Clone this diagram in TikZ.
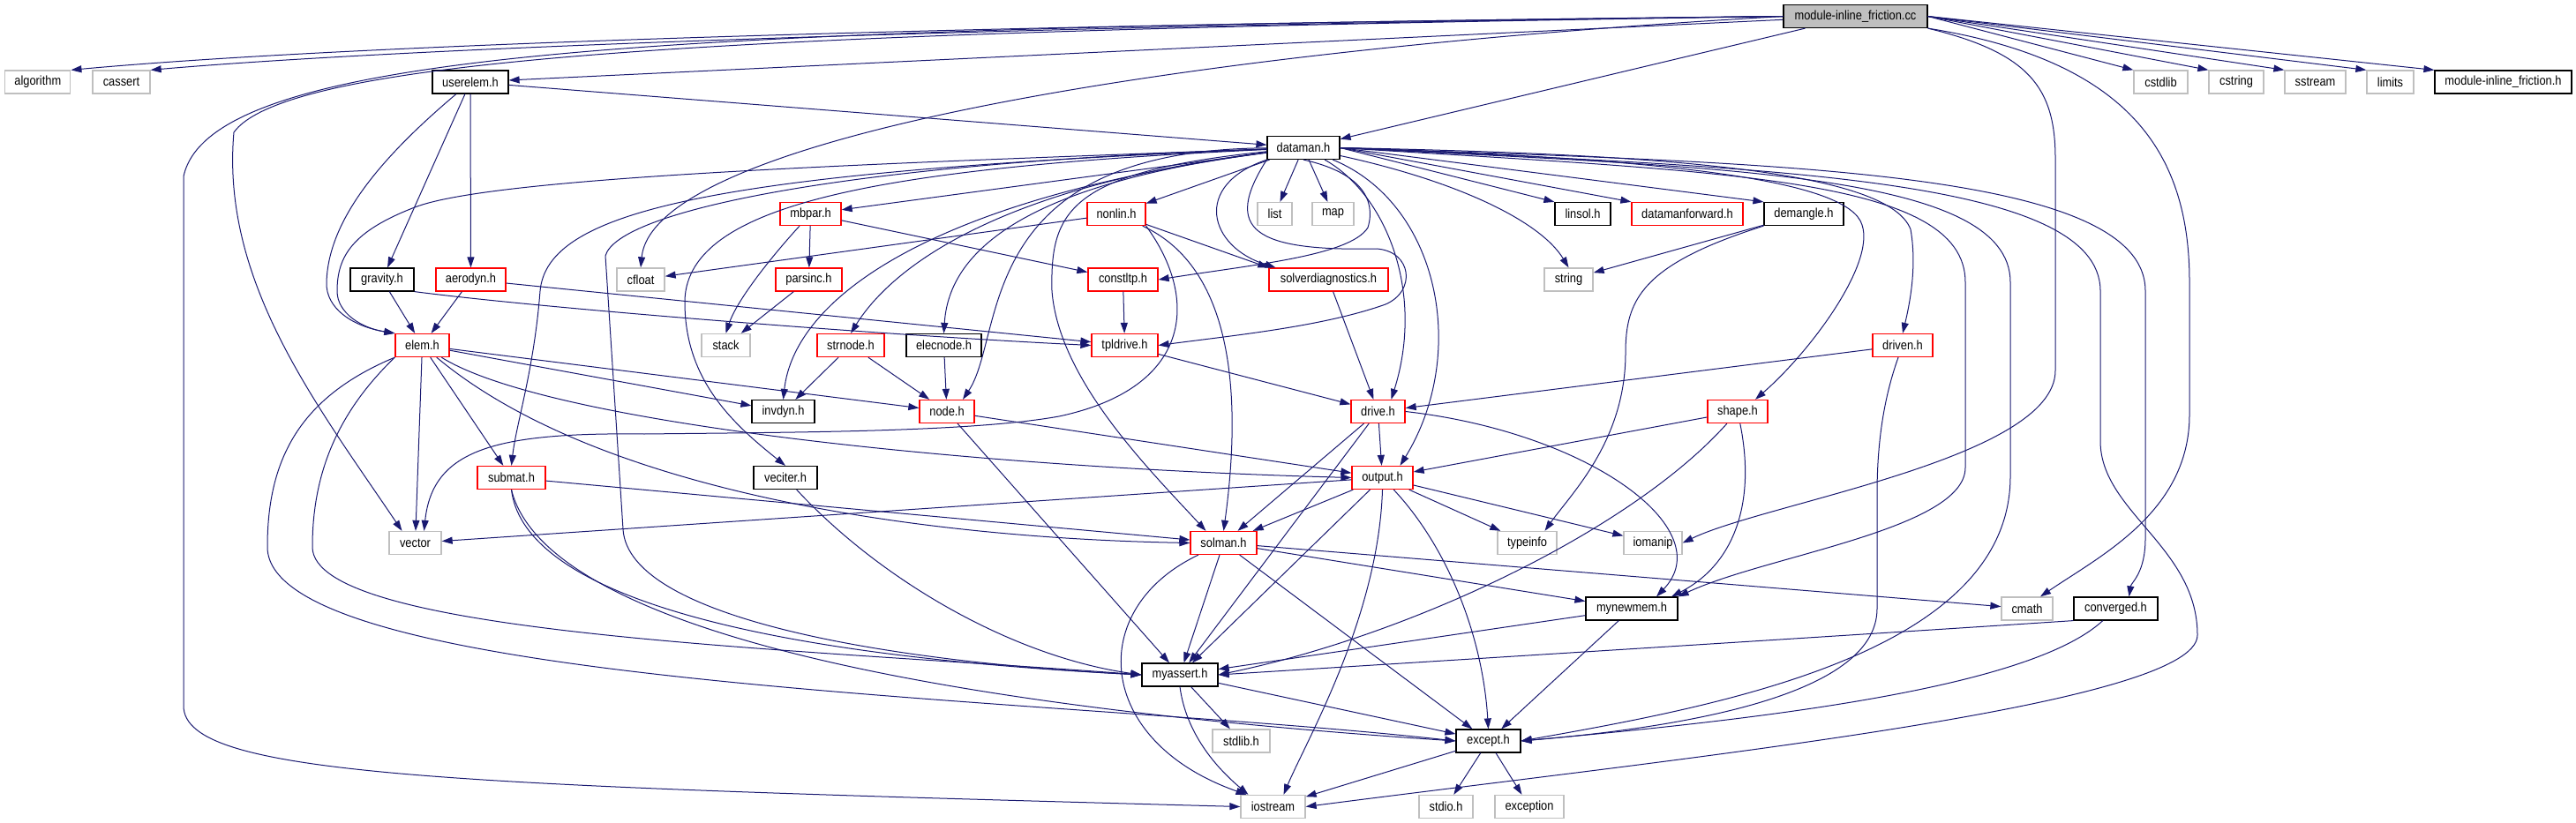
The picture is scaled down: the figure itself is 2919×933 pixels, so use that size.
\documentclass[tikz,border=0pt]{standalone}
\usepackage{fontspec}
\setmainfont{Liberation Sans}[FakeStretch=0.88]
\usetikzlibrary{arrows.meta}
\definecolor{edgeblue}{HTML}{191970}
\definecolor{boxgray}{HTML}{BFBFBF}

\begin{document}
\begin{tikzpicture}[x=1pt, y=-1pt,
sysbox/.style={rectangle, draw=boxgray, line width=1.3pt, minimum height=26pt, inner sep=0pt, font=\fontsize{14.6}{16}\selectfont},
docbox/.style={sysbox, draw=black, line width=1.2pt},
redbox/.style={sysbox, draw=red},
rootbox/.style={sysbox, draw=black, line width=1.2pt, fill=boxgray},
link/.style={draw=edgeblue, line width=1pt, ->},
>={Triangle[length=12pt,width=8pt]},
]
\useasboundingbox (0,0) rectangle (2919,933);
%Nodes
\node[rootbox, minimum width=163pt] (root)      at (2102.5,18.5) {module-inline\_friction.cc};
\node[sysbox, minimum width=74pt]   (algorithm) at (42.8,93)     {algorithm};
\node[sysbox, minimum width=65pt]   (cassert)   at (137.5,93)    {cassert};
\node[docbox, minimum width=86pt]   (userelem)  at (533,93)      {userelem.h};
\node[sysbox, minimum width=61pt]   (cstdlib)   at (2448.5,93)   {cstdlib};
\node[sysbox, minimum width=62pt]   (cstring)   at (2534,93)     {cstring};
\node[sysbox, minimum width=69pt]   (sstream)   at (2623.5,93)   {sstream};
\node[sysbox, minimum width=53pt]   (limits)    at (2708.5,93)   {limits};
\node[docbox, minimum width=155pt]  (mifh)      at (2836.5,93)   {module-inline\_friction.h};
\node[docbox, minimum width=82pt]   (dataman)   at (1477,167.5)  {dataman.h};
\node[redbox, minimum width=69pt]   (mbpar)     at (918.5,242.5) {mbpar.h};
\node[redbox, minimum width=66pt]   (nonlin)    at (1265,242.5)  {nonlin.h};
\node[sysbox, minimum width=39pt]   (list)      at (1444.5,242.5) {list};
\node[sysbox, minimum width=47pt]   (map)       at (1510.5,242.5) {map};
\node[docbox, minimum width=63pt]   (linsol)    at (1793.5,242.5) {linsol.h};
\node[redbox, minimum width=126pt]  (dmfwd)     at (1912,242.5)  {datamanforward.h};
\node[docbox, minimum width=90pt]   (demangle)  at (2044,242.5)  {demangle.h};
\node[docbox, minimum width=72pt]   (gravity)   at (433,317)     {gravity.h};
\node[redbox, minimum width=79pt]   (aerodyn)   at (533.5,317)   {aerodyn.h};
\node[sysbox, minimum width=54pt]   (cfloat)    at (726,317)     {cfloat};
\node[redbox, minimum width=75pt]   (parsinc)   at (916.5,317)   {parsinc.h};
\node[redbox, minimum width=79pt]   (constltp)  at (1272.5,317)  {constltp.h};
\node[redbox, minimum width=135pt]  (solvdiag)  at (1505.5,317)  {solverdiagnostics.h};
\node[sysbox, minimum width=55pt]   (string)    at (1777.5,317)  {string};
\node[redbox, minimum width=61pt]   (elem)      at (478.5,391.5) {elem.h};
\node[sysbox, minimum width=55pt]   (stack)     at (822.5,391.5) {stack};
\node[redbox, minimum width=76pt]   (strnode)   at (964,391.5)   {strnode.h};
\node[docbox, minimum width=85pt]   (elecnode)  at (1069.5,391.5) {elecnode.h};
\node[redbox, minimum width=75pt]   (tpldrive)  at (1274.5,391.5) {tpldrive.h};
\node[redbox, minimum width=68pt]   (driven)    at (2156,391.5)  {driven.h};
\node[docbox, minimum width=71pt]   (invdyn)    at (887.5,466.5) {invdyn.h};
\node[redbox, minimum width=62pt]   (nodeh)     at (1073,466.5)  {node.h};
\node[redbox, minimum width=61pt]   (drive)     at (1561.5,466.5) {drive.h};
\node[redbox, minimum width=68pt]   (shape)     at (1969,466.5)  {shape.h};
\node[redbox, minimum width=77pt]   (submat)    at (579.5,541.5) {submat.h};
\node[docbox, minimum width=72pt]   (veciter)   at (890,541.5)   {veciter.h};
\node[redbox, minimum width=69pt]   (output)    at (1566.5,541.5) {output.h};
\node[sysbox, minimum width=59pt]   (vector)    at (470.5,615.5) {vector};
\node[redbox, minimum width=75pt]   (solman)    at (1386.5,615.5) {solman.h};
\node[sysbox, minimum width=67pt]   (typeinfo)  at (1730.5,615.5) {typeinfo};
\node[sysbox, minimum width=66pt]   (iomanip)   at (1873,615.5)  {iomanip};
\node[docbox, minimum width=104pt]  (mynewmem)  at (1849,690)    {mynewmem.h};
\node[sysbox, minimum width=58pt]   (cmath)     at (2297,690)    {cmath};
\node[docbox, minimum width=95pt]   (converged) at (2397.5,690)  {converged.h};
\node[docbox, minimum width=86pt]   (myassert)  at (1337,765)    {myassert.h};
\node[sysbox, minimum width=65pt]   (stdlib)    at (1406.5,840)  {stdlib.h};
\node[docbox, minimum width=73pt]   (except)    at (1686.5,840)  {except.h};
\node[sysbox, minimum width=73pt]   (iostream)  at (1442.5,914.5) {iostream};
\node[sysbox, minimum width=61pt]   (stdio)     at (1638.5,914.5) {stdio.h};
\node[sysbox, minimum width=78pt]   (exception) at (1733,914.5)  {exception};

%Lines
\draw[link] (root.west) .. controls (1100,28) and (400,50) .. (algorithm.north east);
\draw[link] (root.west) .. controls (1100,30) and (450,55) .. (cassert.north east);
\draw[link] (root) -- (userelem);
\draw[link] (root.west) .. controls (900,35) and (330,60) .. (265,150) .. controls (250,320) and (360,460) .. ([xshift=-15]vector.north);
\draw[link] (root.west) .. controls (800,32) and (240,50) .. (208,200) -- (208,800) .. controls (208,880) and (500,890) .. (iostream.west);
\draw[link] (root) -- (dataman);
\draw[link] (root.west) .. controls (1300,60) and (740,160) .. (cfloat.north);
\draw[link] (root.south east) .. controls (2300,60) and (2329,100) .. (2329,180) -- (2329,420) .. controls (2329,520) and (2000,570) .. (iomanip.east);
\draw[link] (root.south east) .. controls (2420,70) and (2481,180) .. (2481,320) -- (2481,470) .. controls (2481,580) and (2380,630) .. ([xshift=15]cmath.north);
\draw[link] (root.east) -- (cstdlib.north west);
\draw[link] (root.east) -- (cstring.north west);
\draw[link] (root.east) -- (sstream.north west);
\draw[link] (root.east) -- (limits.north west);
\draw[link] (root.east) -- (mifh.north west);

\draw[link] (userelem) -- (dataman);
\draw[link] (userelem) -- (gravity);
\draw[link] (userelem) -- (aerodyn);
\draw[link] (userelem) .. controls (430,180) and (372,250) .. (370,320) .. controls (369,350) and (400,370) .. (elem.north west);

\draw[link] (dataman) .. controls (1000,185) and (560,200) .. (470,235) .. controls (400,262) and (382,290) .. (382,330) .. controls (382,355) and (410,372) .. (elem.north west);
\draw[link] (dataman) .. controls (800,195) and (620,240) .. (612,330) .. controls (605,420) and (585,480) .. (submat.north);
\draw[link] (dataman) .. controls (950,185) and (700,240) .. (686,290) -- (706,600) .. controls (712,700) and (1000,750) .. (myassert.west);
\draw[link] (dataman) .. controls (1000,190) and (780,230) .. (776,340) .. controls (775,430) and (830,480) .. (veciter.north);
\draw[link] (dataman) .. controls (1050,225) and (900,340) .. (invdyn.north);
\draw[link] (dataman) .. controls (1100,215) and (1000,320) .. (strnode.north);
\draw[link] (dataman) .. controls (1150,210) and (1075,290) .. (elecnode.north);
\draw[link] (dataman) .. controls (1100,170) and (1140,380) .. ([xshift=18]nodeh.north);
\draw[link] (dataman) .. controls (1210,195) and (1190,240) .. (1192,330) .. controls (1200,430) and (1300,530) .. ([xshift=-20]solman.north);
\draw[link] (dataman) -- (mbpar);
\draw[link] (dataman) -- (nonlin);
\draw[link] (dataman) -- (list);
\draw[link] (dataman) -- (map);
\draw[link] (dataman.east) -- (linsol.north west);
\draw[link] (dataman.east) -- (dmfwd.north west);
\draw[link] (dataman.east) -- (demangle.north west);
\draw[link] (dataman) .. controls (1650,205) and (1745,250) .. (string.north);
\draw[link] (dataman.south) .. controls (1540,195) and (1560,225) .. (1550,258) .. controls (1530,290) and (1420,300) .. (constltp.east);
\draw[link] (dataman.south west) .. controls (1385,260) and (1420,285) .. (1560,282) .. controls (1600,285) and (1605,330) .. (1570,345) .. controls (1500,370) and (1400,380) .. (tpldrive.east);
\draw[link] (dataman.south west) .. controls (1350,210) and (1370,280) .. ([xshift=-60]solvdiag.north);
\draw[link] (dataman) .. controls (1570,220) and (1615,330) .. ([xshift=15]drive.north);
\draw[link] (dataman) .. controls (1630,230) and (1665,400) .. ([xshift=20]output.north);
\draw[link] (dataman.east) .. controls (1900,180) and (2095,205) .. (2110,255) .. controls (2125,300) and (2050,400) .. ([xshift=20]shape.north);
\draw[link] (dataman.east) .. controls (1900,175) and (2140,195) .. (2165,260) .. controls (2172,300) and (2165,340) .. (driven.north);
\draw[link] (dataman.east) .. controls (1950,195) and (2227,200) .. (2227,320) -- (2227,530) .. controls (2227,600) and (2000,630) .. (mynewmem.north east);
\draw[link] (dataman.east) .. controls (1950,190) and (2278,195) .. (2278,320) -- (2278,540) .. controls (2278,740) and (1950,800) .. (except.east);
\draw[link] (dataman.east) .. controls (2000,185) and (2431,190) .. (2431,330) -- (2431,610) .. controls (2431,650) and (2415,660) .. ([xshift=15]converged.north);
\draw[link] (dataman.east) .. controls (2000,190) and (2380,200) .. (2380,330) -- (2380,500) .. controls (2380,580) and (2490,620) .. (2490,720) .. controls (2490,800) and (1900,860) .. (iostream.east);

\draw[link] (nonlin) -- (cfloat);
\draw[link] (nonlin.south east) .. controls (1360,340) and (1350,440) .. (1200,472) .. controls (1100,490) and (900,490) .. (730,492) .. controls (560,490) and (490,510) .. ([xshift=10]vector.north);
\draw[link] (nonlin) .. controls (1390,300) and (1410,430) .. (solman.north);
\draw[link] (nonlin) -- (solvdiag.north west);

\draw[link] (mbpar) -- (parsinc);
\draw[link] (mbpar) .. controls (875,290) and (835,340) .. (stack.north);
\draw[link] (mbpar) -- (constltp);
\draw[link] (parsinc) -- (stack);

\draw[link] (gravity) -- (elem);
\draw[link] (gravity.south east) .. controls (620,350) and (1000,380) .. (tpldrive.west);
\draw[link] (aerodyn) -- (elem);
\draw[link] (aerodyn) -- (tpldrive);

\draw[link] (elem) -- (nodeh);
\draw[link] (elem) -- (invdyn);
\draw[link] (elem) .. controls (620,480) and (1100,530) .. (output.west);
\draw[link] (elem) .. controls (680,560) and (1050,610) .. (solman.west);
\draw[link] (elem) -- (vector);
\draw[link] (elem) -- (submat);
\draw[link] (elem.south west) .. controls (380,470) and (354,540) .. (354,620) .. controls (354,720) and (900,735) .. (myassert.west);
\draw[link] (elem.south west) .. controls (340,450) and (303,520) .. (303,620) .. controls (303,780) and (1200,790) .. (except.west);

\draw[link] (submat) -- (solman);
\draw[link] (submat.south) .. controls (592,660) and (800,740) .. (myassert.west);
\draw[link] (submat.south) .. controls (610,680) and (900,790) .. (except.west);
\draw[link] (veciter) .. controls (1000,660) and (1150,745) .. (myassert.west);

\draw[link] (strnode) -- (invdyn);
\draw[link] (strnode) -- (nodeh);
\draw[link] (elecnode) -- (nodeh);
\draw[link] (constltp) -- (tpldrive);
\draw[link] (tpldrive) -- (drive);
\draw[link] (solvdiag) -- (drive);
\draw[link] (driven) -- (drive);
\draw[link] ([xshift=-5]driven.south) .. controls (2135,450) and (2127,500) .. (2127,560) -- (2127,690) .. controls (2127,790) and (1900,825) .. (except.east);
\draw[link] (nodeh) -- (output);
\draw[link] (nodeh) -- (myassert);

\draw[link] (drive) -- (output);
\draw[link] (drive) -- (solman);
\draw[link] (drive) -- (myassert);
\draw[link] (drive.east) .. controls (1800,490) and (1950,600) .. ([xshift=28]mynewmem.north);
\draw[link] (shape) -- (output);
\draw[link] (shape) .. controls (1850,600) and (1600,720) .. (myassert.east);
\draw[link] (shape) .. controls (1990,570) and (1965,640) .. ([xshift=45]mynewmem.north);

\draw[link] (output) -- (vector);
\draw[link] (output) -- (solman);
\draw[link] (output) -- (typeinfo);
\draw[link] (output) -- (iomanip);
\draw[link] (output) -- (myassert);
\draw[link] (output.south) .. controls (1562,700) and (1480,840) .. ([xshift=12]iostream.north);
\draw[link] (output) .. controls (1640,620) and (1680,720) .. (except.north);

\draw[link] (solman) -- (myassert);
\draw[link] (solman) .. controls (1230,690) and (1240,840) .. ([xshift=-30]iostream.north);
\draw[link] (solman) -- (except);
\draw[link] (solman) -- (mynewmem);
\draw[link] (solman) -- (cmath);
\draw[link] (mynewmem) -- (myassert);
\draw[link] (mynewmem) -- (except);
\draw[link] (myassert) -- (stdlib);
\draw[link] (myassert.south) .. controls (1345,840) and (1390,880) .. ([xshift=-28]iostream.north);
\draw[link] (myassert) -- (except);
\draw[link] (except) -- (iostream);
\draw[link] (except) -- (stdio);
\draw[link] (except) -- (exception);
\draw[link] (converged.south west) .. controls (2100,720) and (1700,745) .. (myassert.east);
\draw[link] (converged) .. controls (2300,780) and (2000,815) .. (except.east);
\draw[link] (demangle) -- (string);
\draw[link] (demangle.south west) .. controls (1860,300) and (1842,340) .. (1842,400) .. controls (1842,500) and (1780,560) .. ([xshift=20]typeinfo.north);
\end{tikzpicture}
\end{document}
